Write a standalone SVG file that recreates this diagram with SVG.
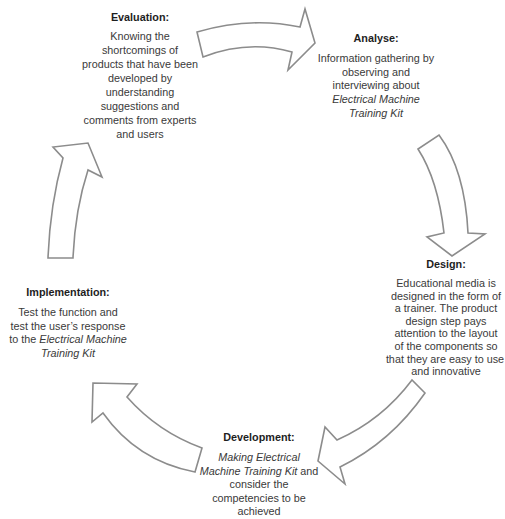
<svg xmlns="http://www.w3.org/2000/svg" width="505" height="519" viewBox="0 0 505 519">
<style>
text{font-family:"Liberation Sans",Arial,sans-serif;font-size:10.8px;fill:#3a3a3a;text-anchor:middle}
.t{font-weight:bold;fill:#1e1e1e}
.i{font-style:italic}
.arrow{fill:#fff;stroke:#8c8c8c;stroke-width:1.6;stroke-linejoin:miter}
</style>
<rect width="505" height="519" fill="#fff"/>
<g id="connectors">
<path id="eval-to-analyse" class="arrow" d="M197,32 Q250,16.5 300,27 L305,9 L315,43 L288,70 L292,52 Q248,39.5 203,57 Z"/>
<path id="analyse-to-design" class="arrow" d="M418,149 Q438,180 444,233 L427,237 L452,256 L485,234 L468,233 Q465,170 439,135 Z"/>
<path id="design-to-development" class="arrow" d="M412,380 Q382,420 337,440 L325,427 L318,461 L345,484 L340,467 Q391,442 425,393 Z"/>
<path id="development-to-implementation" class="arrow" d="M202,448 Q158,432 127,397 L137,384 L93,383 L92,422 L103,413 Q137,461 195,472 Z"/>
<path id="implementation-to-evaluation" class="arrow" d="M48,258 Q50,205 63,158 L53,147 L88,143 L102,177 L88,170 Q75,210 73,258 Z"/>
</g>
<g id="evaluation">
<text class="t" x="140" y="21">Evaluation:</text>
<text x="140" y="40">Knowing the</text>
<text x="140" y="54">shortcomings of</text>
<text x="140" y="68">products that have been</text>
<text x="140" y="82">developed by</text>
<text x="140" y="96">understanding</text>
<text x="140" y="110">suggestions and</text>
<text x="140" y="124">comments from experts</text>
<text x="140" y="138">and users</text>
</g>
<g id="analyse">
<text class="t" x="376" y="42">Analyse:</text>
<text x="376" y="62">Information gathering by</text>
<text x="376" y="75.7">observing and</text>
<text x="376" y="89.4">interviewing about</text>
<text class="i" x="376" y="103">Electrical Machine</text>
<text class="i" x="376" y="117">Training Kit</text>
</g>
<g id="design">
<text class="t" x="446" y="268">Design:</text>
<text x="446" y="287">Educational media is</text>
<text x="446" y="299.6">designed in the form of</text>
<text x="446" y="312.2">a trainer. The product</text>
<text x="446" y="324.8">design step pays</text>
<text x="446" y="337.4">attention to the layout</text>
<text x="446" y="350">of the components so</text>
<text x="445" y="362.6">that they are easy to use</text>
<text x="446" y="375.2">and innovative</text>
</g>
<g id="development">
<text class="t" x="259" y="441">Development:</text>
<text x="259" y="461"><tspan class="i">Making Electrical</tspan></text>
<text x="259" y="474.6"><tspan class="i">Machine Training Kit</tspan> and</text>
<text x="259" y="488.2">consider the</text>
<text x="259" y="501.8">competencies to be</text>
<text x="259" y="515.4">achieved</text>
</g>
<g id="implementation">
<text class="t" x="68" y="296">Implementation:</text>
<text x="68" y="316">Test the function and</text>
<text x="68" y="329.5">test the user’s response</text>
<text x="68" y="343">to the <tspan class="i">Electrical Machine</tspan></text>
<text class="i" x="68" y="356.5">Training Kit</text>
</g>
</svg>
